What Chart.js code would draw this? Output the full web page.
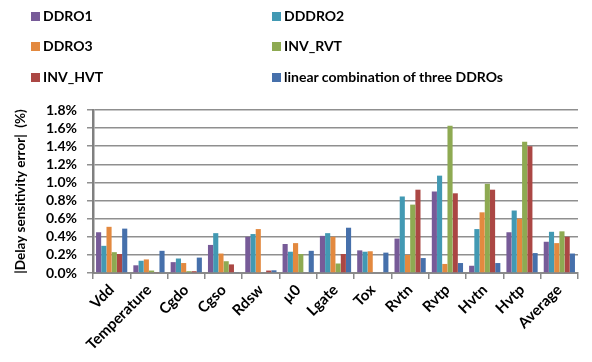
<!DOCTYPE html>
<html>
<head>
<meta charset="utf-8">
<script src="https://cdn.jsdelivr.net/npm/chart.js@4"></script>
<style>
  html, body { margin: 0; padding: 0; background: #fff; }
  #wrap { position: relative; width: 592px; height: 362px; }
  #legend { position: absolute; left: 0; top: 0; width: 592px; height: 95px;
            font-family: Lato, "Open Sans", sans-serif; font-weight: bold; font-size: 14px; color: #000; }
  .item { position: absolute; height: 18px; line-height: 18px; white-space: nowrap; }
  .box { position: absolute; left: 0; top: 5px; width: 9px; height: 9px; }
  .lbl { position: absolute; left: 12px; top: 0; }
</style>
</head>
<body>
<div id="wrap">
  <canvas id="c" width="592" height="362"></canvas>
  <div id="legend"></div>
</div>
<script>
// Process parameters on the x axis
const categories = ['Vdd', 'Temperature', 'Cgdo', 'Cgso', 'Rdsw', 'µ0', 'Lgate', 'Tox',
                    'Rvtn', 'Rvtp', 'Hvtn', 'Hvtp', 'Average'];

// |Delay sensitivity error| in percent, one array per sensor
const ddro1   = [0.45, 0.085, 0.12, 0.31, 0.40, 0.32, 0.41, 0.25, 0.38, 0.90, 0.08, 0.45, 0.345];
const dddro2  = [0.30, 0.135, 0.16, 0.44, 0.43, 0.235, 0.44, 0.235, 0.845, 1.075, 0.485, 0.69, 0.455];
const ddro3   = [0.51, 0.15, 0.11, 0.215, 0.485, 0.33, 0.40, 0.24, 0.20, 0.10, 0.67, 0.60, 0.33];
const invRvt  = [0.23, 0.027, 0.02, 0.13, 0, 0.21, 0.105, 0, 0.755, 1.625, 0.985, 1.45, 0.46];
const invHvt  = [0.21, 0.01, 0.02, 0.095, 0.027, 0, 0.21, 0.008, 0.92, 0.88, 0.92, 1.40, 0.40];
const linComb = [0.49, 0.245, 0.17, 0.01, 0.03, 0.245, 0.50, 0.225, 0.165, 0.11, 0.11, 0.22, 0.215];

const seriesNames = ['DDRO1', 'DDDRO2', 'DDRO3', 'INV_RVT', 'INV_HVT', 'linear combination of three DDROs'];
const seriesColors = ['#775b98', '#4299b3', '#e3893f', '#8eaa52', '#ab4744', '#4670ab'];
const seriesData = [ddro1, dddro2, ddro3, invRvt, invHvt, linComb];

// y axis ticks: 0.0% .. 1.8% in 0.2% steps
const yMin = 0, yMax = 1.8, yStep = 0.2;

const FONT = 'Lato, "Open Sans", sans-serif';

// two-column legend above the plot
const legendEl = document.getElementById('legend');
const colX = [31, 272];
const rowY = [7, 37, 68];
seriesNames.forEach((name, i) => {
  const it = document.createElement('div');
  it.className = 'item';
  it.style.left = colX[i % 2] + 'px';
  it.style.top = rowY[Math.floor(i / 2)] + 'px';
  it.innerHTML = '<span class="box" style="background:' + seriesColors[i] + '"></span><span class="lbl"></span>';
  it.querySelector('.lbl').textContent = name;
  legendEl.appendChild(it);
});

new Chart(document.getElementById('c'), {
  type: 'bar',
  data: {
    labels: categories,
    datasets: seriesData.map((d, i) => ({
      label: seriesNames[i],
      data: d,
      backgroundColor: seriesColors[i],
      borderWidth: 0,
      categoryPercentage: 0.84,
      barPercentage: 0.98
    }))
  },
  options: {
    responsive: false,
    animation: false,
    devicePixelRatio: 1,
    layout: { padding: { top: 110, right: 14, left: 0, bottom: 0 } },
    plugins: { legend: { display: false }, tooltip: { enabled: false } },
    scales: {
      x: {
        afterFit: s => { s.height = 89; },
        grid: { offset: true, drawOnChartArea: false, drawTicks: true, tickLength: 6, color: '#8a8a8a', lineWidth: 1.5 },
        border: { color: '#8a8a8a', width: 2 },
        ticks: { color: '#000', font: { family: FONT, weight: 'bold', size: 15 }, maxRotation: 45, minRotation: 45, padding: 2, autoSkip: false }
      },
      y: {
        min: yMin, max: yMax,
        afterFit: s => { s.width = 93; },
        grid: { color: '#8f8f8f', lineWidth: 1.5, tickLength: 6, drawTicks: true },
        border: { color: '#808080', width: 2.5 },
        ticks: { stepSize: yStep, autoSkip: false, color: '#000', padding: 10,
                 font: { family: FONT, weight: 'bold', size: 14 },
                 callback: v => v.toFixed(1) + '%' },
        title: { display: true, text: '|Delay sensitivity error|  (%)', color: '#000',
                 font: { family: FONT, weight: 'bold', size: 13.5 }, padding: { top: 13, bottom: 0 } }
      }
    }
  }
});
</script>
</body>
</html>
